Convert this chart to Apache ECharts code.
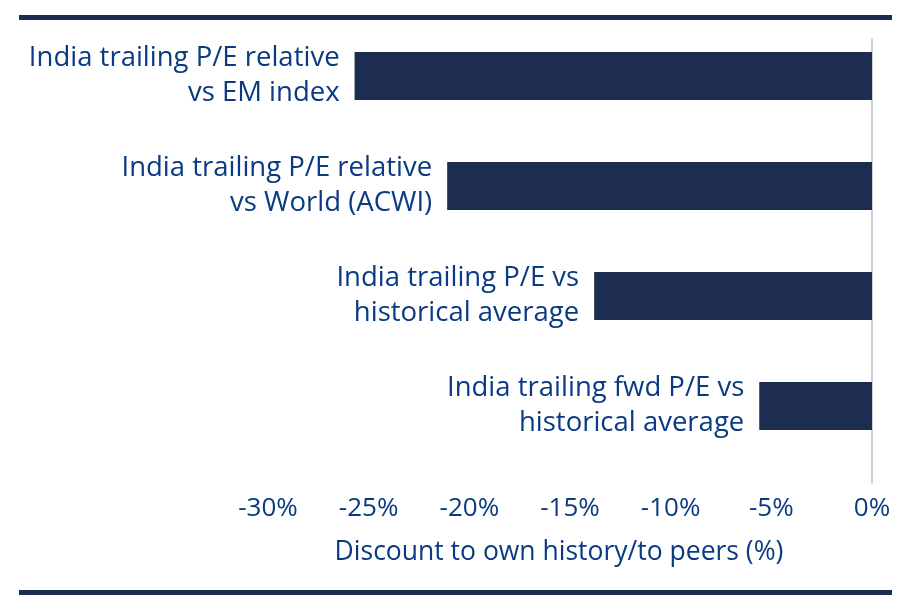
<!DOCTYPE html>
<html>
<head>
<meta charset="utf-8">
<script src="https://cdn.jsdelivr.net/npm/echarts@6/dist/echarts.min.js"></script>
<style>
  html, body { margin: 0; padding: 0; background: #fff; }
  #main { width: 908px; height: 612px; }
</style>
</head>
<body>
<div id="main"></div>
<script>
// data
var categories = [
    'India trailing P/E relative\nvs EM index',
    'India trailing P/E relative\nvs World (ACWI)',
    'India trailing P/E vs\nhistorical average',
    'India trailing fwd P/E vs\nhistorical average'
];
var discounts = [-25.7, -21.1, -13.8, -5.6];
var tickMin = -30, tickMax = 0, tickStep = 5;
var axisTitle = 'Discount to own history/to peers (%)';

var navy = '#1d2c51';
var blue = '#0a3a82';
var font = 'Open Sans';

var dom = document.getElementById('main');
var myChart = echarts.init(dom);

var option = {
    animation: false,
    textStyle: { fontFamily: font },
    grid: [
        { left: 268, right: 36, top: 21, height: 440 },   // bars
        { left: 268, right: 36, top: 39, height: 444 }    // zero line + ticks
    ],
    xAxis: [
        {
            gridIndex: 0, type: 'value', min: tickMin, max: tickMax, interval: tickStep,
            axisLabel: { show: false }, axisLine: { show: false },
            axisTick: { show: false }, splitLine: { show: false }
        },
        {
            gridIndex: 1, type: 'value', min: tickMin, max: tickMax, interval: tickStep,
            axisLine: { show: false }, axisTick: { show: false }, splitLine: { show: false },
            axisLabel: {
                formatter: '{value}%', color: blue, fontSize: 26, margin: 13,
                fontFamily: font
            },
            name: axisTitle,
            nameLocation: 'middle',
            nameGap: 56,
            nameTextStyle: { color: blue, fontSize: 26.5, fontFamily: font, padding: [0, 22, 0, 0] }
        }
    ],
    yAxis: [
        {
            gridIndex: 0, type: 'category', data: categories, inverse: true,
            axisLine: { show: false }, axisTick: { show: false }, axisLabel: { show: false }
        },
        {
            gridIndex: 1, type: 'category', data: [''], position: 'right',
            axisLine: { show: true, lineStyle: { color: '#bfbfbf', width: 1.5 } },
            axisTick: { show: false }, axisLabel: { show: false }
        }
    ],
    graphic: [
        { type: 'rect', left: 19, top: 15, shape: { width: 873, height: 5 }, style: { fill: navy } },
        { type: 'rect', left: 19, top: 590, shape: { width: 873, height: 5 }, style: { fill: navy } }
    ],
    series: [
        {
            type: 'bar',
            xAxisIndex: 0, yAxisIndex: 0,
            data: discounts,
            barWidth: 48,
            itemStyle: { color: navy },
            label: {
                show: true,
                position: 'left',
                distance: 15,
                align: 'right',
                color: blue,
                fontSize: 27.5,
                lineHeight: 35,
                fontFamily: font,
                formatter: function (p) { return p.name; }
            }
        }
    ]
};

myChart.setOption(option, true);
</script>
</body>
</html>
